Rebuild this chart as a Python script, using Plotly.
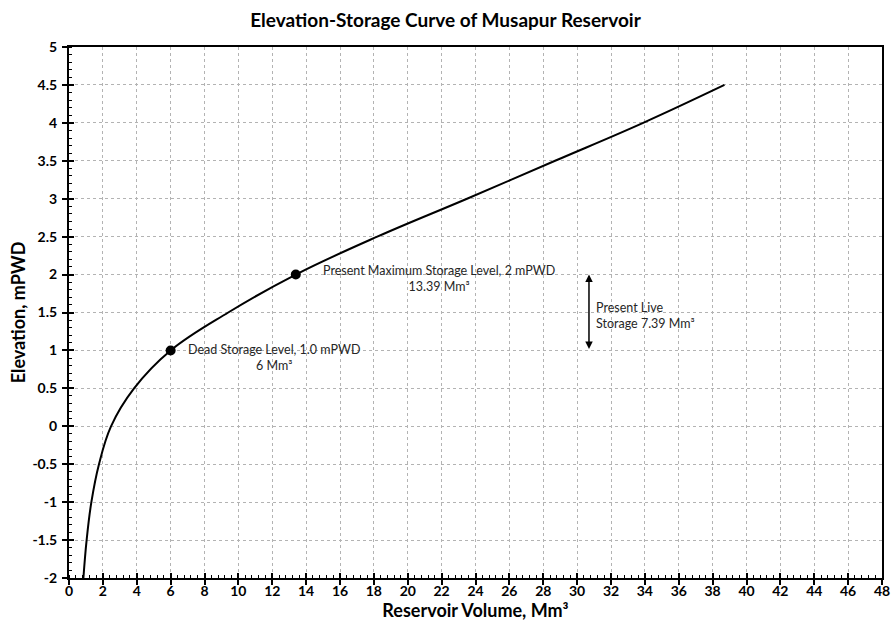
import plotly.graph_objects as go

# Elevation-storage curve
volume = [0.85, 1.04, 1.32, 1.77, 2.48, 3.84, 6.0, 9.4, 13.39, 18.2, 23.5, 28.7, 33.9, 38.7]
elevation = [-2.0, -1.5, -1.0, -0.5, 0.0, 0.5, 1.0, 1.5, 2.0, 2.5, 3.0, 3.5, 4.0, 4.5]

# Marked levels
mark_volume = [6.0, 13.39]
mark_elev = [1.0, 2.0]

x_ticks = list(range(0, 49, 2))
y_ticks = [-2, -1.5, -1, -0.5, 0, 0.5, 1, 1.5, 2, 2.5, 3, 3.5, 4, 4.5, 5]
y_tick_labels = ["-2", "-1.5", "-1", "-0.5", "0", "0.5", "1", "1.5", "2", "2.5", "3", "3.5", "4", "4.5", "5"]

FONT = "Lato"
FIG_W, FIG_H = 891, 630

fig = go.Figure()
fig.add_trace(go.Scatter(x=volume, y=elevation, mode="lines",
                         line=dict(color="black", width=2, shape="spline", smoothing=1.1),
                         hoverinfo="skip", showlegend=False))
fig.add_trace(go.Scatter(x=mark_volume, y=mark_elev, mode="markers",
                         marker=dict(color="black", size=10),
                         showlegend=False))

axis_common = dict(showline=True, linecolor="black", linewidth=2, mirror=True,
                   showgrid=True, gridcolor="#b3b3b3", griddash="dot", gridwidth=1,
                   zeroline=False, ticks="outside", ticklen=5, tickwidth=1.5, tickcolor="black",
                   automargin=False, ticklabeloverflow="allow",
                   tickfont=dict(family=FONT, size=14, color="black", weight="bold"))

fig.update_layout(
    width=FIG_W, height=FIG_H,
    paper_bgcolor="white", plot_bgcolor="white",
    margin=dict(l=69, r=9, t=47, b=52, autoexpand=False),
    title=dict(text="<b>Elevation-Storage Curve of Musapur Reservoir</b>",
               x=0.5, xanchor="center", yref="container", y=1 - 20 / FIG_H, yanchor="middle",
               automargin=False, font=dict(family=FONT, size=19, color="black")),
    xaxis=dict(range=[0, 48], tickvals=x_ticks, ticklabelstandoff=-6, **axis_common,
               minor=dict(ticks="inside", ticklen=3, tickwidth=1, tickcolor="black", dtick=0.4, showgrid=False),
               title=dict(text="<b>Reservoir Volume, Mm³</b>", standoff=6,
                          font=dict(family=FONT, size=18, color="black"))),
    yaxis=dict(range=[-2, 5], tickvals=y_ticks, ticktext=y_tick_labels, ticklabelstandoff=2, **axis_common,
               minor=dict(ticks="inside", ticklen=3, tickwidth=1, tickcolor="black", dtick=0.1, showgrid=False),
               title=dict(text="<b>Elevation, mPWD</b>", standoff=2,
                          font=dict(family=FONT, size=18, color="black"))),
    xaxis2=dict(range=[0, 48], tickvals=x_ticks, overlaying="x", side="bottom", anchor="y",
                showticklabels=False, ticks="inside", ticklen=5, tickwidth=1.5, tickcolor="black",
                showgrid=False, zeroline=False, showline=False),
    yaxis2=dict(range=[-2, 5], tickvals=y_ticks, overlaying="y", side="left", anchor="x",
                showticklabels=False, ticks="inside", ticklen=5, tickwidth=1.5, tickcolor="black",
                showgrid=False, zeroline=False, showline=False),
)

# dummy invisible trace to activate overlay axes
fig.add_trace(go.Scatter(x=[None], y=[None], xaxis="x2", yaxis="y2", showlegend=False, hoverinfo="skip"))

ann_font = dict(family=FONT, size=12.5, color="#262626")
fig.add_annotation(x=6.9, y=1.0, xref="x", yref="y", xanchor="left", yanchor="top", yshift=10,
                   text="Dead Storage Level, 1.0 mPWD<br>6 Mm³", showarrow=False,
                   align="center", font=ann_font)
fig.add_annotation(x=14.9, y=2.0, xref="x", yref="y", xanchor="left", yanchor="top", yshift=14,
                   text="Present Maximum Storage Level, 2 mPWD<br>13.39 Mm³", showarrow=False,
                   align="center", font=ann_font)
fig.add_annotation(x=31.0, y=1.5, xref="x", yref="y", xanchor="left", yanchor="middle", yshift=-3,
                   text="Present Live<br>Storage 7.39 Mm³", showarrow=False,
                   align="left", font=ann_font)
# double-headed arrow for live storage
fig.add_annotation(x=30.7, y=2.0, ax=30.7, ay=1.0, xref="x", yref="y", axref="x", ayref="y",
                   text="", showarrow=True, arrowhead=2, arrowside="end+start",
                   arrowsize=1, arrowwidth=1.5, arrowcolor="black")

# remove the browser's default 8px body margin so the figure fills the window exactly
fig.write_html("out.html", config={"displayModeBar": False},
               post_script="document.body.style.margin='0px';")
